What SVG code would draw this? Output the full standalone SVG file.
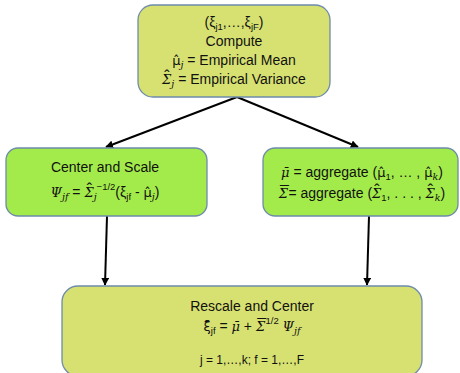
<svg xmlns="http://www.w3.org/2000/svg" width="460" height="373" viewBox="0 0 460 373">
<defs>
<marker id="ah" viewBox="0 0 10 10" refX="9" refY="5" markerWidth="4" markerHeight="4" orient="auto"><path d="M0,0 L10,5 L0,10 z" fill="#000"/></marker>
<style>
.y{fill:#D7E171;stroke:#6E8BAA;stroke-width:1.3}
.g{fill:#A3EB4B;stroke:#6E8BAA;stroke-width:1.3}
text{font-family:"Liberation Sans",Arial,sans-serif;font-size:14px;fill:#111;text-anchor:middle}
.i{font-family:"DejaVu Serif",serif;font-style:italic;font-size:13px}
.m{font-family:"DejaVu Sans",sans-serif;font-size:13px}
.s{font-size:9.5px}
.h{font-size:16px}
.c{stroke:#000;stroke-width:2;fill:none;marker-end:url(#ah)}
</style>
</defs>
<rect width="460" height="373" fill="#fff"/>
<g id="connectors">
<line class="c" x1="237" y1="97" x2="106" y2="147"/>
<line class="c" x1="237" y1="97" x2="358" y2="147"/>
<line class="c" x1="107" y1="216" x2="105" y2="285"/>
<line class="c" x1="369" y1="216" x2="367" y2="285"/>
</g>
<g id="compute">
<rect class="y" x="138" y="5" width="192" height="92" rx="15"/>
<text x="234" y="27">(ξ<tspan class="s" dy="3">j1</tspan><tspan dy="-3">,…,ξ</tspan><tspan class="s" dy="3">jF</tspan><tspan dy="-3">)</tspan></text>
<text x="234" y="46">Compute</text>
<text x="234" y="65"><tspan class="m">μ̂</tspan><tspan class="s i" dy="3">j</tspan><tspan dy="-3"> = Empirical Mean</tspan></text>
<text x="234" y="84"><tspan class="i">Σ</tspan><tspan class="h" dx="-7" dy="-2">ˆ</tspan><tspan class="s i" dx="1.7" dy="5">j</tspan><tspan dy="-3"> = Empirical Variance</tspan></text>
</g>
<g id="center-scale">
<rect class="g" x="6" y="148" width="201" height="68" rx="12"/>
<text x="105" y="172">Center and Scale</text>
<text x="105" y="197"><tspan class="i">Ψ</tspan><tspan class="s i" dy="3">jf</tspan><tspan dy="-3"> = </tspan><tspan class="i">Σ</tspan><tspan class="h" dx="-7" dy="-2">ˆ</tspan><tspan class="s i" dx="1.7" dy="5">j</tspan><tspan class="s" dy="-10">−1/2</tspan><tspan dy="7">(ξ</tspan><tspan class="s" dy="3">jf</tspan><tspan dy="-3"> - </tspan><tspan class="m">μ̂</tspan><tspan class="s i" dy="3">j</tspan><tspan dy="-3">)</tspan></text>
</g>
<g id="aggregate">
<rect class="g" x="263" y="148" width="195" height="68" rx="12"/>
<text x="362" y="177"><tspan class="i">μ̄</tspan> = aggregate (<tspan class="m">μ̂</tspan><tspan class="s" dy="3">1</tspan><tspan dy="-3">, … , </tspan><tspan class="m">μ̂</tspan><tspan class="s i" dy="3">k</tspan><tspan dy="-3">)</tspan></text>
<text x="362" y="198"><tspan class="i">Σ</tspan><tspan class="h" dx="-8">¯</tspan><tspan dx="-0.5">= aggregate (</tspan><tspan class="i">Σ</tspan><tspan class="h" dx="-7" dy="-2">ˆ</tspan><tspan class="s" dx="1.7" dy="5">1</tspan><tspan dy="-3">, . . . , </tspan><tspan class="i">Σ</tspan><tspan class="h" dx="-7" dy="-2">ˆ</tspan><tspan class="s i" dx="1.7" dy="5">k</tspan><tspan dy="-3">)</tspan></text>
</g>
<g id="rescale-center">
<rect class="y" x="62" y="286" width="360" height="90" rx="16"/>
<text x="252" y="311">Rescale and Center</text>
<text x="252" y="331"><tspan class="m">ξ̄</tspan><tspan class="s" dy="3">jf</tspan><tspan dy="-3"> = </tspan><tspan class="i">μ̄</tspan> + <tspan class="i">Σ</tspan><tspan class="h" dx="-8">¯</tspan><tspan class="s" dx="-0.5" dy="-7">1/2</tspan><tspan dy="7"> </tspan><tspan class="i">Ψ</tspan><tspan class="s i" dy="3">jf</tspan></text>
<text x="252" y="364" style="font-size:12px">j = 1,…,k; f = 1,…,F</text>
</g>
</svg>
